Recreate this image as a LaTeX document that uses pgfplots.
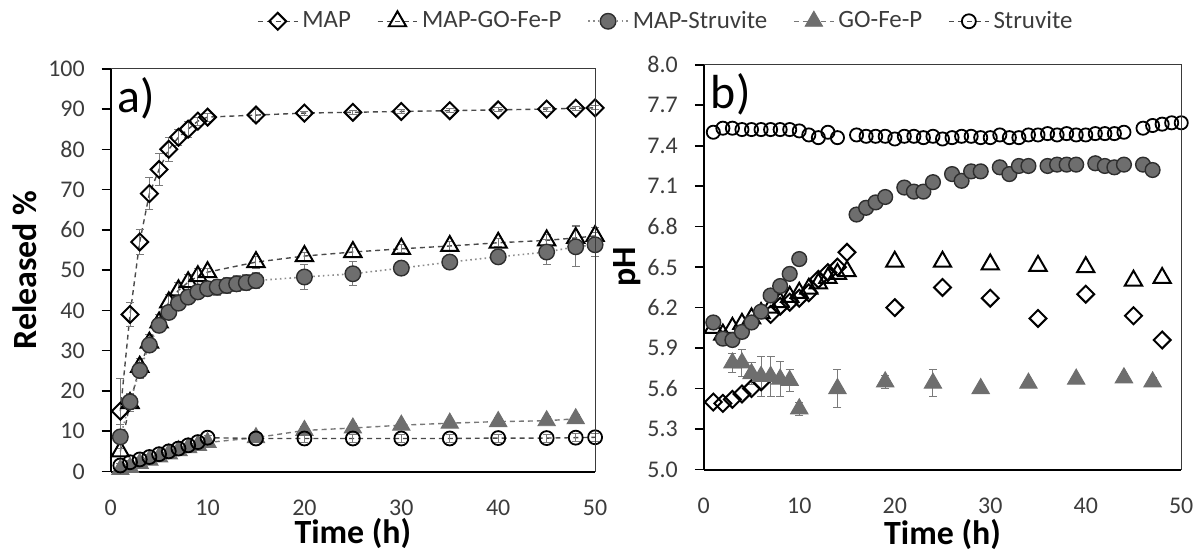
\documentclass[border=0pt]{standalone}
\usepackage{fontspec}
\setmainfont{Carlito}
\usepackage{pgfplots}
\usepackage{pgfplotstable}
\pgfplotsset{compat=1.18}

\definecolor{fillg}{HTML}{6E6E6E}
\definecolor{edgeg}{HTML}{2E2E2E}
\definecolor{lineg}{HTML}{8C8C8C}
\definecolor{lined}{HTML}{4A4A4A}
\definecolor{tickc}{HTML}{3C3C3C}
\definecolor{boxc}{HTML}{3A3A3A}
\definecolor{errc}{HTML}{7A7A7A}

% ---------- panel a: released % ----------
\pgfplotstableread{
x y e
1 15 8
2 39 3
3 57 3
4 69 4
5 75 4
6 80 3
7 83 2
8 85 2
9 87 1
10 88 1
15 88.5 1.5
20 89 0.5
25 89.2 0.5
30 89.4 0.5
35 89.6 0.5
40 89.8 0.5
45 90 0.5
48 90.2 0.5
50 90.3 0.5
}\aMAP
\pgfplotstableread{
x y e
1 5 3
2 17 2
3 26 2
4 32 2
5 37 2
6 42 2
7 45 2
8 47 2
9 48.5 2
10 49.5 1
15 52 1.5
20 53.5 1
25 54.5 1
30 55.3 1
35 56 1
40 56.8 1
45 57.4 1.5
48 58 3
50 58.5 2
}\aMGF
\pgfplotstableread{
x y e
1 8.6 3
2 17.3 2
3 25.1 2
4 31.4 1
5 36.3 1
6 39.5 1
7 41.8 1
8 43.3 1
9 44.6 1.5
10 45.4 1.5
11 45.8 2
12 46.2 2
13 46.6 2
14 46.9 2
15 47.4 2
20 48.3 3
25 49.1 3
30 50.5 1
35 52 1
40 53.3 1
45 54.5 3
48 55.8 5
50 56.3 3
}\aMS
\pgfplotstableread{
x y e
1 0.5 0.5
2 1 0.5
3 2 0.5
4 2.8 0.5
5 3.6 0.5
6 4.4 0.5
7 5.2 0.5
8 5.9 0.5
9 6.5 0.5
10 7.2 0.5
15 8.4 1
20 10.2 1
25 10.8 1
30 11.5 1
35 12 1
40 12.4 1
45 12.6 1
48 13.1 1
}\aGF
\pgfplotstableread{
x y e
1 1.5 0.5
2 2.3 0.5
3 3 0.5
4 3.6 0.5
5 4.3 0.5
6 5 0.5
7 5.7 0.5
8 6.5 0.5
9 7.3 0.5
10 8.4 0.5
15 8.2 1
20 8.2 1
25 8.2 1
30 8.2 1
35 8.2 1
40 8.3 1
45 8.3 1
48 8.4 1
50 8.5 1
}\aS

% ---------- panel b: pH ----------
\pgfplotstableread{
x y
1 5.50
2 5.49
3 5.52
4 5.56
5 5.60
6 5.65
7 6.15
8 6.21
9 6.24
10 6.27
11 6.31
12 6.41
13 6.46
14 6.50
15 6.61
20 6.20
25 6.35
30 6.27
35 6.12
40 6.30
45 6.14
48 5.96
}\bMAP
\pgfplotstableread{
x y
1 6.05
2 6.00
3 6.05
4 6.08
5 6.12
6 6.16
7 6.20
8 6.24
9 6.28
10 6.31
11 6.34
12 6.38
13 6.42
14 6.45
15 6.47
20 6.54
25 6.54
30 6.52
35 6.51
40 6.50
45 6.40
48 6.42
}\bMGF
\pgfplotstableread{
x y
1 6.09
2 5.97
3 5.96
4 6.02
5 6.09
6 6.17
7 6.29
8 6.36
9 6.45
10 6.56
16 6.89
17 6.94
18 6.98
19 7.02
21 7.09
22 7.06
23 7.06
24 7.13
26 7.19
27 7.14
28 7.21
29 7.21
31 7.24
32 7.19
33 7.25
34 7.25
36 7.25
37 7.26
38 7.26
39 7.26
41 7.27
42 7.25
43 7.24
44 7.26
46 7.26
47 7.22
}\bMS
\pgfplotstableread{
x y e
3 5.79 0.07
4 5.79 0.10
5 5.71 0.08
6 5.69 0.15
7 5.69 0.15
8 5.67 0.13
9 5.66 0.08
10 5.45 0.05
14 5.60 0.14
19 5.65 0.05
24 5.64 0.10
29 5.60 0.02
34 5.64 0.02
39 5.67 0.02
44 5.68 0.03
47 5.65 0.03
}\bGF
\pgfplotstableread{
x y
1 7.50
2 7.53
3 7.53
4 7.52
5 7.52
6 7.52
7 7.52
8 7.52
9 7.52
10 7.51
11 7.48
12 7.46
13 7.50
14 7.46
16 7.48
17 7.47
18 7.47
19 7.47
20 7.45
21 7.47
22 7.47
23 7.46
24 7.47
25 7.45
26 7.46
27 7.47
28 7.47
29 7.46
30 7.46
31 7.48
32 7.46
33 7.46
34 7.48
35 7.48
36 7.49
37 7.48
38 7.49
39 7.48
40 7.48
41 7.49
42 7.49
43 7.49
44 7.50
46 7.53
47 7.55
48 7.56
49 7.57
50 7.57
}\bS

\pgfplotsset{
  base/.style={
    scale only axis,
    axis lines*=left,
    axis line style={black, line width=1pt},
    xmin=0, xmax=50, xtick={0,10,...,50},
    xtick style={draw=none},
    ytick style={black, line width=0.8pt},
    tick align=outside,
    major tick length=4.5pt,
    tick label style={font=\fontsize{12}{14}\selectfont, text=tickc},
    /pgf/number format/assume math mode=true,
    xticklabel style={yshift=-6pt},
    yticklabel style={xshift=-5pt},
    label style={font=\bfseries\fontsize{17}{19}\selectfont},
    clip=false,
    after end axis/.code={\draw[boxc, line width=0.6pt] (rel axis cs:0,1) -- (rel axis cs:1,1) -- (rel axis cs:1,0);},
  },
  errs/.style={error bars/.cd, y dir=both, y explicit,
    error bar style={errc, line width=0.5pt, solid},
    error mark options={errc, rotate=90, mark size=2pt, line width=0.5pt, solid}},
  sMAP/.style={lined, line width=0.7pt, dash pattern=on 2.5pt off 2pt,
    mark=square, mark size=3pt, mark options={rotate=45, solid, draw=black, line width=1pt}},
  sMGF/.style={lined, line width=0.7pt, dash pattern=on 2.5pt off 2pt,
    mark=triangle, mark size=5pt, mark options={solid, draw=black, line width=1pt}},
  sMS/.style={lineg, line width=0.8pt, dash pattern=on 0.8pt off 1.6pt,
    mark=*, mark size=3.9pt, mark options={solid, fill=fillg, draw=edgeg, line width=0.7pt}},
  sGF/.style={lineg!85!black, line width=0.7pt, dash pattern=on 2.5pt off 2pt,
    mark=triangle*, mark size=5pt, mark options={solid, fill=fillg, draw=fillg, line width=0.5pt}},
  sS/.style={lined, line width=0.7pt, dash pattern=on 2.5pt off 2pt,
    mark=o, mark size=3.5pt, mark options={solid, draw=black, line width=0.9pt}},
}

\begin{document}
\begin{tikzpicture}
\path (0,0) rectangle (600pt,275.5pt);

\begin{axis}[base,
  at={(55.5pt,39pt)}, anchor=south west,
  width=243pt, height=202pt,
  ymin=0, ymax=100, ytick={0,10,...,100},
  xlabel={Time (h)}, ylabel={Released \%},
  xlabel style={at={(rel axis cs:0.5,-0.155)}, anchor=center},
  ylabel style={at={(rel axis cs:-0.177,0.5)}, anchor=center},
  legend columns=5,
  legend style={draw=none, fill=none, at={(rel axis cs:1.148,1.118)}, anchor=center,
    font=\fontsize{12.5}{14}\selectfont, text=tickc,
    /tikz/every even column/.append style={column sep=11pt},
    inner xsep=0pt},
  legend cell align=left,
  legend image code/.code={\draw[mark repeat=2, mark phase=2, #1] plot coordinates {(0pt,0pt) (10pt,0pt) (20pt,0pt)};},
]
\addplot[sMAP, errs] table[x=x, y=y, y error=e] {\aMAP};
\addlegendentry{MAP}
\addplot[sMGF, errs] table[x=x, y=y, y error=e] {\aMGF};
\addlegendentry{MAP-GO-Fe-P}
\addplot[sMS, errs] table[x=x, y=y, y error=e] {\aMS};
\addlegendentry{MAP-Struvite}
\addplot[sGF, errs] table[x=x, y=y, y error=e] {\aGF};
\addlegendentry{GO-Fe-P}
\addplot[sS, errs] table[x=x, y=y, y error=e] {\aS};
\addlegendentry{Struvite}
\node[anchor=north west, font=\fontsize{24}{26}\selectfont, inner sep=1pt] at (rel axis cs:0.01,0.985) {a)};
\end{axis}

\begin{axis}[base,
  at={(353pt,40pt)}, anchor=south west,
  width=239.5pt, height=203pt,
  ymin=5, ymax=8, ytick={5,5.3,...,8.01},
  yticklabel style={/pgf/number format/.cd, fixed, fixed zerofill, precision=1},
  xlabel={Time (h)}, ylabel={pH},
  xlabel style={at={(rel axis cs:0.5,-0.16)}, anchor=center},
  ylabel style={at={(rel axis cs:-0.16,0.5)}, anchor=center},
]
\addplot[sMAP, only marks] table[x=x, y=y] {\bMAP};
\addplot[sMGF, only marks] table[x=x, y=y] {\bMGF};
\addplot[sMS, only marks, mark size=3.7pt] table[x=x, y=y] {\bMS};
\addplot[sGF, only marks, errs] table[x=x, y=y, y error=e] {\bGF};
\addplot[sS, only marks, mark size=3.3pt] table[x=x, y=y] {\bS};
\node[anchor=north west, font=\fontsize{24}{26}\selectfont, inner sep=1pt] at (rel axis cs:0.01,0.985) {b)};
\end{axis}
\end{tikzpicture}
\end{document}
